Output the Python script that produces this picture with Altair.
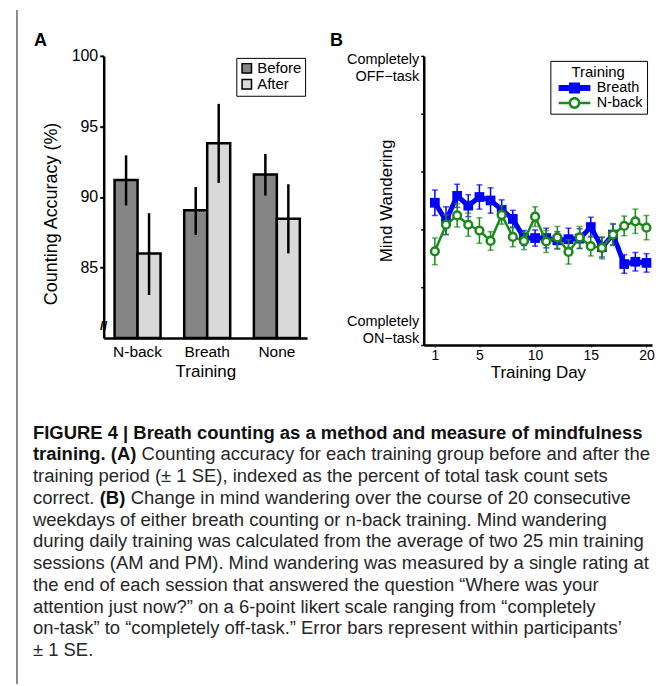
import altair as alt
import pandas as pd

FONT = "Liberation Sans"

# ---------------- Panel A data ----------------
groups = ["N-back", "Breath", "None"]
phases = ["Before", "After"]
before_mean = [91.2, 89.05, 91.6]
before_lo = [89.4, 87.3, 90.1]
before_hi = [92.95, 90.7, 93.05]
after_mean = [86.0, 93.8, 88.45]
after_lo = [83.05, 91.0, 86.0]
after_hi = [88.85, 96.6, 90.9]
axis_break = [80.85]

# ---------------- Panel B data ----------------
days = list(range(1, 21))
series = ["Breath", "N-back"]
breath_mean = [3.46, 3.15, 3.58, 3.41, 3.56, 3.50, 3.34, 3.18, 2.85, 2.85,
               2.85, 2.81, 2.83, 2.84, 3.04, 2.69, 2.91, 2.40, 2.44, 2.42]
breath_se = [0.22, 0.24, 0.20, 0.19, 0.21, 0.22, 0.17, 0.15, 0.13, 0.14,
             0.17, 0.15, 0.19, 0.17, 0.17, 0.17, 0.18, 0.16, 0.16, 0.16]
nback_mean = [2.62, 3.08, 3.24, 3.08, 2.98, 2.80, 3.25, 2.87, 2.80, 3.22,
              2.79, 2.86, 2.61, 2.86, 2.71, 2.68, 2.91, 3.06, 3.14, 3.03]
nback_se = [0.23, 0.17, 0.20, 0.20, 0.22, 0.16, 0.16, 0.17, 0.15, 0.17,
            0.19, 0.19, 0.21, 0.19, 0.17, 0.19, 0.19, 0.17, 0.21, 0.21]

# ---------------- Caption text ----------------
cap_line1_bold = "FIGURE 4 | Breath counting as a method and measure of mindfulness"
cap_line2_bold = "training. (A)"
cap_line2_rest = "Counting accuracy for each training group before and after the"
cap_line4_start = "correct."
cap_line4_bold = "(B)"
cap_line4_rest = "Change in mind wandering over the course of 20 consecutive"
cap_plain_lines = [2, 4, 5, 6, 7, 8, 9, 10]
cap_plain_text = [
    "training period (\u00b1 1 SE), indexed as the percent of total task count sets",
    "weekdays of either breath counting or n-back training. Mind wandering",
    "during daily training was calculated from the average of two 25 min training",
    "sessions (AM and PM). Mind wandering was measured by a single rating at",
    "the end of each session that answered the question \u201cWhere was your",
    "attention just now?\u201d on a 6-point likert scale ranging from \u201ccompletely",
    "on-task\u201d to \u201ccompletely off-task.\u201d Error bars represent within participants\u2019",
    "\u00b1 1 SE.",
]

BLUE = "#0000ff"
GREEN = "#178a17"

# legend glyphs: line with marker (filled outlines, drawn as one path each)
SYM_BREATH = "M-5.3,-1H5.3V1H-5.3Z M-1.83,-1.83H1.83V1.83H-1.83Z"
SYM_NBACK = ("M-5.3,-0.42H-1.6V0.42H-5.3Z M1.6,-0.42H5.3V0.42H1.6Z "
             "M-1.97,0A1.97,1.97,0,1,1,1.97,0A1.97,1.97,0,1,1,-1.97,0Z "
             "M-1.13,0A1.13,1.13,0,1,0,1.13,0A1.13,1.13,0,1,0,-1.13,0Z")

# ---------------- Frames ----------------
rowsA = []
for i, g in enumerate(groups):
    rowsA.append(dict(Training=g, Time="Before", Value=before_mean[i], Lo=before_lo[i], Hi=before_hi[i]))
    rowsA.append(dict(Training=g, Time="After", Value=after_mean[i], Lo=after_lo[i], Hi=after_hi[i]))
dfA = pd.DataFrame(rowsA)

rowsB = []
for i, d in enumerate(days):
    rowsB.append(dict(Day=d, Series="Breath", Value=breath_mean[i], SE=breath_se[i]))
    rowsB.append(dict(Day=d, Series="N-back", Value=nback_mean[i], SE=nback_se[i]))
dfB = pd.DataFrame(rowsB)

one = pd.DataFrame({"t": [""]})

# ---------------- Panel A ----------------
x_scale_a = alt.Scale(paddingInner=0.34, paddingOuter=0.13, align=0.6)
x_axis_a = alt.Axis(title="Training", labelAngle=0, ticks=False, labelFontSize=15.5,
                    titleFontSize=17, labelPadding=7, titlePadding=3, domainWidth=2.5)
y_scale_a = alt.Scale(domain=[80, 100], nice=False, zero=False)
y_axis_a = alt.Axis(title="Counting Accuracy (%)", values=[85, 90, 95, 100], tickSize=4,
                    tickWidth=2, labelFontSize=16, labelPadding=2, domainWidth=2.5,
                    titleFontSize=18, titleX=-52, titleY=158, titleBaseline="middle")

xA = alt.X("Training:N", sort=groups, scale=x_scale_a, axis=x_axis_a)
xoA = alt.XOffset("Time:N", sort=phases, scale=alt.Scale(paddingInner=0, paddingOuter=0))

bars = alt.Chart(dfA).mark_bar(stroke="black", strokeWidth=2.5).encode(
    x=xA, xOffset=xoA,
    y=alt.Y("Value:Q", scale=y_scale_a, axis=y_axis_a),
    y2=alt.datum(80),
    color=alt.Color("Time:N", sort=phases,
                    scale=alt.Scale(domain=phases, range=["#858585", "#d9d9d9"]),
                    legend=alt.Legend(title=None, orient="top-right", offset=2,
                                      strokeColor="black", fillColor="white", padding=3,
                                      labelFontSize=15, symbolType="square", symbolSize=90,
                                      symbolStrokeColor="black", symbolStrokeWidth=1.5,
                                      rowPadding=-2, labelOffset=3)),
)
errA = alt.Chart(dfA).mark_rule(color="black", strokeWidth=2.5).encode(
    x=xA, xOffset=xoA,
    y=alt.Y("Lo:Q", scale=y_scale_a, axis=y_axis_a),
    y2="Hi:Q",
)
brk = alt.Chart(pd.DataFrame({"b": axis_break})).mark_text(
    text="//", fontSize=13, fontWeight="bold", color="black").encode(
    x=alt.value(0), y=alt.Y("b:Q", scale=y_scale_a, axis=y_axis_a))
labA = alt.Chart(pd.DataFrame({"t": ["A"]})).mark_text(
    fontSize=18, fontWeight="bold", align="left", baseline="alphabetic", color="black").encode(
    x=alt.value(-70), y=alt.value(-10), text="t:N")
# thin frame line at the left edge of the figure
frame = alt.Chart(one).mark_rule(color="#666666", strokeWidth=1.5).encode(
    x=alt.value(-87), y=alt.value(-46), y2=alt.value(630))

# caption (text rows positioned through a line-index scale)
y_cap = alt.Y("line:Q", scale=alt.Scale(domain=[0, 10], range=[378, 596], nice=False, zero=False),
              axis=None)
CAP_SIZE = 18.5


def cap_layer(lines, texts, x, bold):
    return alt.Chart(pd.DataFrame({"line": lines, "text": texts})).mark_text(
        align="left", baseline="middle", font=FONT, fontSize=CAP_SIZE,
        fontWeight="bold" if bold else "normal",
        color="#111111" if bold else "#262626").encode(
        x=alt.value(x), y=y_cap, text="text:N")


caption = alt.layer(
    cap_layer([0], [cap_line1_bold], -71, True),
    cap_layer([1], [cap_line2_bold], -71, True),
    cap_layer([1], [cap_line2_rest], 38, False),
    cap_layer([3], [cap_line4_start], -71, False),
    cap_layer([3], [cap_line4_bold], -4, True),
    cap_layer([3], [cap_line4_rest], 27, False),
    cap_layer(cap_plain_lines, cap_plain_text, -71, False),
)

panelA = alt.layer(alt.layer(bars, errA, brk, labA, frame), caption).resolve_scale(
    y="independent").properties(width=204, height=283)

# ---------------- Panel B ----------------
x_b = alt.X("Day:Q", scale=alt.Scale(domain=[0, 20.5], nice=False, zero=False),
            axis=alt.Axis(values=[1, 5, 10, 15, 20], title="Training Day", tickSize=2,
                          labelFontSize=14, labelPadding=2, labelFlush=False,
                          titleFontSize=17, titlePadding=2, domainWidth=2.5))
y_scale_b = alt.Scale(domain=[1, 6], nice=False, zero=False)
y_axis_b = alt.Axis(values=[1, 2, 3, 4, 5, 6],
                    labelExpr="datum.value == 6 ? ['Completely', 'OFF\u2212task'] : datum.value == 1 ? ['Completely', 'ON\u2212task'] : ''",
                    labelBaseline="middle",
                    labelOffset={"condition": {"test": "datum.value == 6", "value": 4}, "value": -24},
                    labelLineHeight=17, labelFlush=False, labelOverlap=False,
                    tickSize=3, tickWidth=1.5, labelFontSize=14.5, labelPadding=2, domainWidth=2.5,
                    title="Mind Wandering", titleFontSize=17, titleX=-37, titleY=145,
                    titleBaseline="middle")

baseB = alt.Chart(dfB).transform_calculate(Lo="datum.Value - datum.SE", Hi="datum.Value + datum.SE")

legend_b = alt.Legend(title="Training", orient="top-right", offset=5, strokeColor="black",
                      fillColor="white", padding=4, titleFontSize=15, titleFontWeight="normal",
                      titleAnchor="middle", titlePadding=1, labelFontSize=14.5, symbolSize=36,
                      symbolOffset=13, labelOffset=15, rowPadding=0, symbolStrokeWidth=0)
leg = alt.Chart(dfB).transform_filter("false").mark_point(filled=True, opacity=1).encode(
    color=alt.Color("Series:N", scale=alt.Scale(domain=series, range=[BLUE, GREEN]), legend=legend_b),
    shape=alt.Shape("Series:N", scale=alt.Scale(domain=series, range=[SYM_BREATH, SYM_NBACK]),
                    legend=legend_b),
)


def series_layers(name, color, line_w, point_mark):
    sub = baseB.transform_filter(alt.datum.Series == name)
    rule = sub.mark_rule(color=color, strokeWidth=1.5).encode(
        x=x_b, y=alt.Y("Lo:Q", scale=y_scale_b, axis=y_axis_b), y2="Hi:Q")
    caps = sub.transform_fold(["Lo", "Hi"], as_=["end", "pos"]).mark_tick(
        orient="horizontal", color=color, size=6, thickness=1.5).encode(
        x=x_b, y=alt.Y("pos:Q", scale=y_scale_b, axis=y_axis_b))
    line = sub.mark_line(color=color, strokeWidth=line_w).encode(
        x=x_b, y=alt.Y("Value:Q", scale=y_scale_b, axis=y_axis_b))
    pts = sub.mark_point(**point_mark).encode(
        x=x_b, y=alt.Y("Value:Q", scale=y_scale_b, axis=y_axis_b))
    return [rule, caps, line, pts]


blue_layers = series_layers("Breath", BLUE, 5,
                            dict(shape="square", filled=True, color=BLUE, size=95, opacity=1))
green_layers = series_layers("N-back", GREEN, 2.5,
                             dict(shape="circle", filled=False, stroke=GREEN, fill="white",
                                  fillOpacity=1, size=60, strokeWidth=2.5, opacity=1))
labB = alt.Chart(pd.DataFrame({"t": ["B"]})).mark_text(
    fontSize=18, fontWeight="bold", align="left", baseline="alphabetic", color="black").encode(
    x=alt.value(-94), y=alt.value(-10), text="t:N")

panelB = alt.layer(leg, *blue_layers, *green_layers, labB).properties(width=229, height=290)

chart = alt.hconcat(panelA, panelB, spacing=117, bounds="flush").resolve_scale(
    color="independent", shape="independent"
).resolve_legend(
    color="independent", shape="independent"
).properties(
    padding={"left": 8, "top": 0, "right": 5, "bottom": 0}
).configure(font=FONT).configure_view(stroke=None).configure_axis(
    grid=False, domainColor="black", tickColor="black", labelColor="black",
    titleColor="black", titleFontWeight="normal", labelFont=FONT, titleFont=FONT
).configure_legend(labelFont=FONT, titleFont=FONT, labelColor="black", titleColor="black")

chart.save("out.html", embed_options={"renderer": "svg", "actions": False})
